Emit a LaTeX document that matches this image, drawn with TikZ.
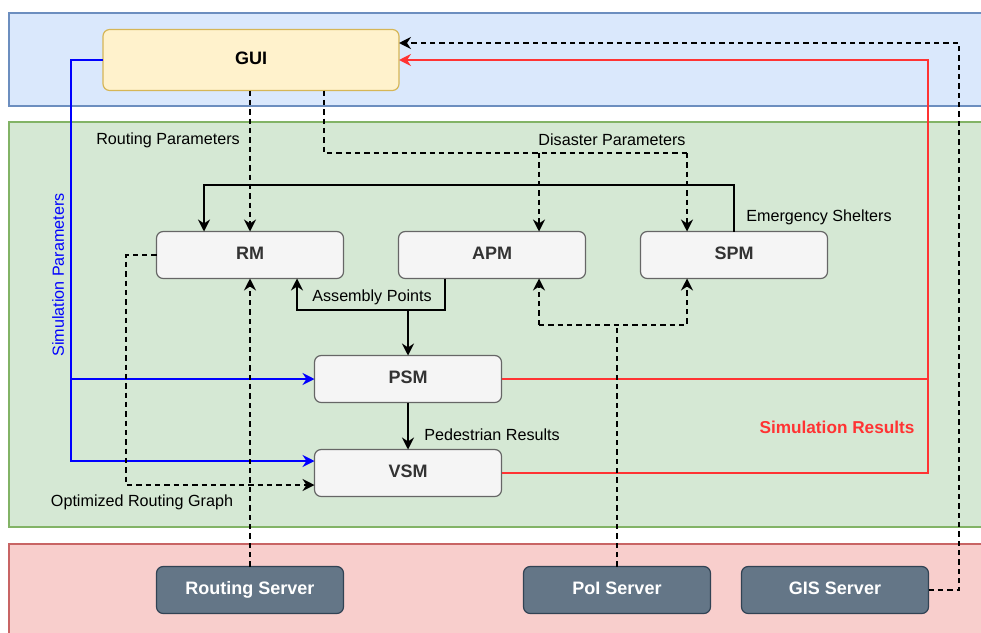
\documentclass[tikz,border=0pt]{standalone}
\usepackage{fontspec}
\setmainfont{Liberation Sans}
\usetikzlibrary{arrows.meta,calc}

\definecolor{bandblue}{HTML}{DAE8FC}
\definecolor{bandblueline}{HTML}{6C8EBF}
\definecolor{bandgreen}{HTML}{D5E8D4}
\definecolor{bandgreenline}{HTML}{82B366}
\definecolor{bandred}{HTML}{F8CECC}
\definecolor{bandredline}{HTML}{C86464}
\definecolor{guifill}{HTML}{FFF2CC}
\definecolor{guiline}{HTML}{D6B656}
\definecolor{modfill}{HTML}{F5F5F5}
\definecolor{modline}{HTML}{666666}
\definecolor{modtext}{HTML}{333333}
\definecolor{srvfill}{HTML}{647687}
\definecolor{srvline}{HTML}{314354}
\definecolor{simblue}{HTML}{0000FF}
\definecolor{resred}{HTML}{FF3333}

\tikzset{every picture/.style={line width=1.2pt},
  band/.style={line width=0.9pt},
  module/.style={draw=modline, fill=modfill, text=modtext, rounded corners=5pt,
    line width=0.9pt, minimum width=140.25pt, minimum height=35.25pt, outer sep=0pt,
    text height=0.716em, text depth=0pt,
    font=\fontsize{13.5}{15}\selectfont\bfseries},
  guibox/.style={module, draw=guiline, fill=guifill, text=black,
    minimum width=222pt, minimum height=45.75pt},
  server/.style={module, draw=srvline, fill=srvfill, text=white},
  lbl/.style={inner sep=0.75pt, font=\fontsize{12.1}{14}\selectfont},
  tip/.style={-{Stealth[length=9pt,width=9pt,inset=3pt]}},
  dashline/.style={dash pattern=on 4pt off 3pt},
  dasharr/.style={dashline, tip},
  solarr/.style={tip},
  simpar/.style={draw=simblue, tip},
  resline/.style={draw=resred}
}

\begin{document}
\begin{tikzpicture}[x=0.75pt,y=0.75pt,yscale=-1,xscale=1]
  \clip (0,0) rectangle (981,632);

  %Shape: Rectangle (interface layer)
  \draw [band, draw=bandblueline, fill=bandblue] (9,13) rectangle (995,106);
  %Shape: Rectangle (module layer)
  \draw [band, draw=bandgreenline, fill=bandgreen] (9,122) rectangle (995,527);
  %Shape: Rectangle (server layer)
  \draw [band, draw=bandredline, fill=bandred] (9,544) rectangle (995,645);

  % Boxes
  \node [guibox] (gui) at (251,60) {GUI};
  \node [module] (rm) at (250,255) {RM};
  \node [module] (apm) at (492,255) {APM};
  \node [module] (spm) at (734,255) {SPM};
  \node [module] (psm) at (408,379) {PSM};
  \node [module] (vsm) at (408,473) {VSM};
  \node [server] (rs) at (250,590) {Routing Server};
  \node [server] (pois) at (617,590) {PoI Server};
  \node [server] (gis) at (835,590) {GIS Server};

  % Bend points
  \coordinate (simx) at (71,60);
  \coordinate (resx) at (928,60);
  \coordinate (gisx) at (959,43);
  \coordinate (dis) at (324,153);
  \coordinate (disapm) at (539,153);
  \coordinate (disspm) at (687,153);
  \coordinate (shel) at (204,185);
  \coordinate (asm) at (445,310);
  \coordinate (asmrm) at (297,310);
  \coordinate (orx) at (126,255);
  \coordinate (poiapm) at (539,325);
  \coordinate (poispm) at (687,325);

  %Simulation parameters
  \draw [simpar] (gui.west) -- (simx) |- ([yshift=-9pt]vsm.west);
  \draw [simpar] (simx |- psm.west) -- (psm.west);
  %Simulation results
  \draw [resline] (psm.east) -- (psm.east -| resx);
  \draw [resline, tip] (vsm.east) -| (resx) -- (gui.east);
  %GIS data
  \draw [dasharr] (gis.east) -| (gisx) -- (gisx -| gui.east);
  %Routing parameters
  \draw [dasharr] (rm.north |- gui.south) -- (rm.north);
  %Disaster parameters
  \draw [dashline] (dis |- gui.south) -- (dis) -- (disspm);
  \draw [dasharr] (disapm) -- (disapm |- apm.north);
  \draw [dasharr] (disspm) -- (disspm |- spm.north);
  %Emergency shelters
  \draw [solarr] (spm.north) |- (shel) -- (shel |- rm.north);
  %Assembly points
  \draw [solarr] (asm |- apm.south) -- (asm) -- (asmrm) -- (asmrm |- rm.south);
  \draw [solarr] (psm.north |- asm) -- (psm.north);
  %Pedestrian results
  \draw [solarr] (psm.south) -- (vsm.north);
  %Optimized routing graph
  \draw [dasharr] (rm.west) -- (orx) |- ([yshift=9pt]vsm.west);
  %Routing server
  \draw [dasharr] (rs.north) -- (rm.south);
  %PoI server
  \draw [dashline] (pois.north) -- (pois.north |- poiapm);
  \draw [dasharr] (poiapm) -- (poiapm |- apm.south);
  \draw [dasharr] (poiapm) -- (poispm) -- (poispm |- spm.south);

  % Text Node
  \node [lbl] (lrp) at (168,140) {Routing Parameters};
  % Text Node
  \node [lbl] (ldp) at (612,140) {Disaster Parameters};
  % Text Node
  \node [lbl] (les) at (819,217) {Emergency Shelters};
  % Text Node
  \node [lbl] (lap) at (372,297) {Assembly Points};
  % Text Node
  \node [lbl] (lpr) at (492,435) {Pedestrian Results};
  % Text Node
  \node [lbl] (lorg) at (142,502) {Optimized Routing Graph};
  % Text Node
  \node [lbl, text=simblue, rotate=90] (lsp) at (58,275) {Simulation Parameters};
  % Text Node
  \node [lbl, text=resred, font=\fontsize{12.9}{15}\selectfont\bfseries] (lsr) at (837,427) {Simulation Results};
\end{tikzpicture}
\end{document}
